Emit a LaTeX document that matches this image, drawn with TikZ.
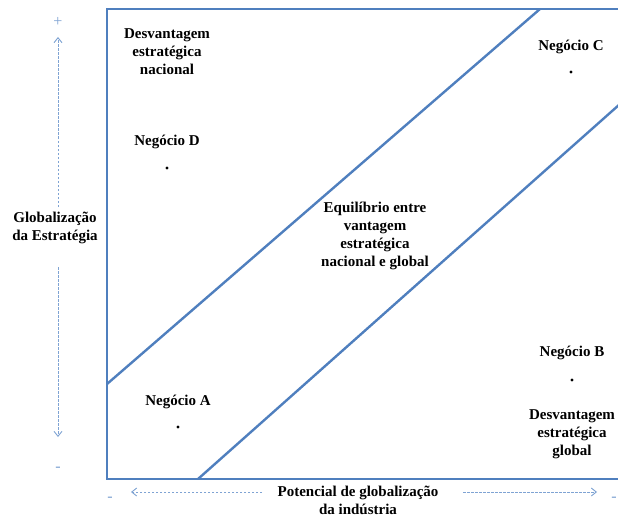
\documentclass[tikz,border=0pt]{standalone}
\usepackage{fontspec}
\setmainfont{Liberation Serif}
\usepackage{tikz}
\usetikzlibrary{arrows.meta}
\definecolor{boxblue}{HTML}{4F7FBE}
\definecolor{axisblue}{HTML}{7FA3D3}

\begin{document}
\begin{tikzpicture}[x=1pt, y=-1pt,
	every node/.style={font=\fontsize{15}{18}\selectfont\bfseries, align=center, inner sep=0pt},
	axis/.style={axisblue, line width=0.9pt, dash pattern=on 2.5pt off 1.5pt, -{Straight Barb[length=5pt, width=8pt]}},
	sign/.style={axisblue, font=\fontsize{16}{18}\selectfont},
	spot/.style={circle, fill=black, minimum size=3.2pt}]
	\useasboundingbox (0,0) rectangle (618,516);
	\draw[line width=2.4pt, boxblue] (620,9) -- (107,9) -- (107,479) -- (620,479);
	\draw[line width=2.4pt, boxblue] (107,384) -- (540,9);
	\draw[line width=2.4pt, boxblue] (198,479) -- (620,104);
	\node at (167,52) {Desvantagem\\estratégica\\nacional};
	\node at (167,142) {Negócio D};
	\node[spot] (d) at (167,168) {};
	\node at (571,47) {Negócio C};
	\node[spot] (c) at (571,72) {};
	\node at (375,236) {Equilíbrio entre\\vantagem\\estratégica\\nacional e global};
	\node at (178,402) {Negócio A};
	\node[spot] (a) at (178,427) {};
	\node at (572,353) {Negócio B};
	\node[spot] (b) at (572,380) {};
	\node at (572,434) {Desvantagem\\estratégica\\global};
	% eixo vertical
	\node[sign] (plus) at (58,22) {+};
	\node (glob) at (55,228) {Globalização\\da Estratégia};
	\node[sign] (minusy) at (58,469) {-};
	\draw[axis] (58,207) -- (58,37);
	\draw[axis] (58,267) -- (58,437);
	% eixo horizontal
	\node[sign] (minusx) at (110,499) {-};
	\node (pot) at (358,500) {Potencial de globalização\\da indústria};
	\node[sign] (plusx) at (614,499) {-};
	\draw[axis] (262,492) -- (131,492);
	\draw[axis] (463,492) -- (597,492);
\end{tikzpicture}
\end{document}
